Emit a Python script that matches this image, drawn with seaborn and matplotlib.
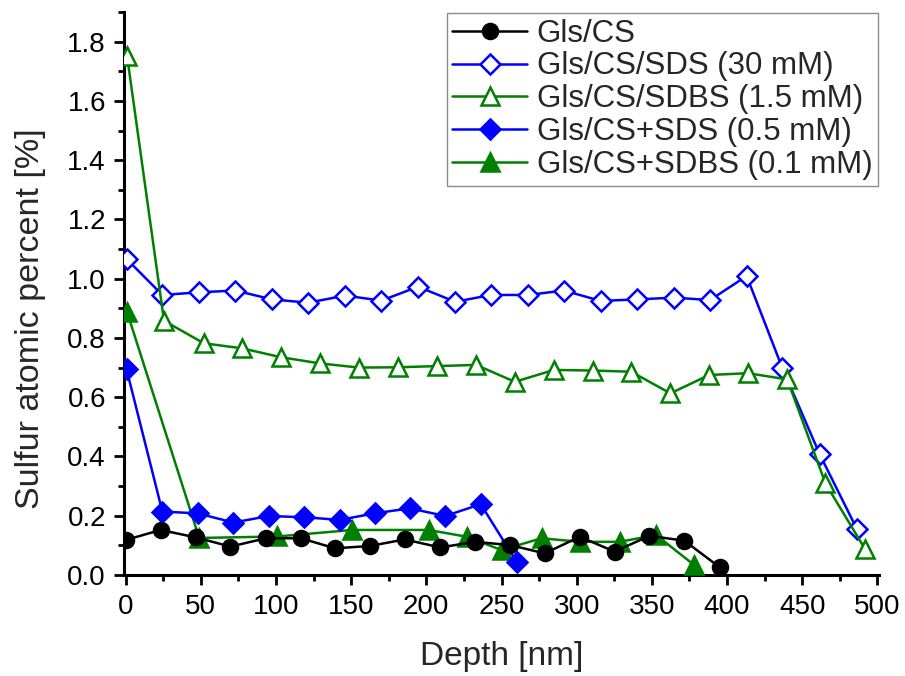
import matplotlib
matplotlib.use("Agg")
import matplotlib.pyplot as plt
import seaborn as sns
from matplotlib.ticker import MultipleLocator

# ---- data ----
gls_x = [0, 23.4, 46.6, 69.8, 93.4, 116.6, 139.3, 162.5, 185.6, 209.3, 232.5, 255.6, 278.8, 302, 325.2, 348.3, 371.5, 395.1]
gls_y = [0.118, 0.152, 0.127, 0.096, 0.124, 0.124, 0.090, 0.098, 0.120, 0.093, 0.112, 0.101, 0.073, 0.129, 0.079, 0.132, 0.116, 0.026]

sds30_x = [1, 24.5, 48.8, 73.1, 97.4, 121.6, 146, 170.2, 194.5, 219.2, 243, 267.3, 291.6, 315.9, 340.2, 364.4, 388.7, 413, 436.6, 461.6, 486.3]
sds30_y = [1.065, 0.945, 0.954, 0.960, 0.930, 0.919, 0.943, 0.926, 0.973, 0.922, 0.945, 0.945, 0.960, 0.925, 0.930, 0.936, 0.928, 1.009, 0.700, 0.407, 0.155]

sdbs15_x = [1, 25.6, 52.1, 77.5, 103.3, 129.4, 155.2, 181, 207.1, 233.1, 258.9, 284.8, 310.8, 336.2, 362.3, 388.1, 413.9, 440, 465.4, 491.8]
sdbs15_y = [1.753, 0.858, 0.782, 0.765, 0.735, 0.714, 0.700, 0.701, 0.705, 0.709, 0.652, 0.692, 0.690, 0.686, 0.613, 0.675, 0.681, 0.660, 0.309, 0.087]

sds05_x = [0.7, 24.5, 48.1, 71.7, 95.2, 118.8, 142.4, 165.6, 189, 212.6, 236.2, 260]
sds05_y = [0.694, 0.214, 0.208, 0.177, 0.199, 0.195, 0.186, 0.208, 0.225, 0.199, 0.239, 0.045]

sdbs01_x = [1, 49, 101, 150.8, 201.5, 227, 250, 276.6, 302, 328.5, 352.8, 378]
sdbs01_y = [0.888, 0.125, 0.130, 0.152, 0.152, 0.129, 0.084, 0.124, 0.112, 0.112, 0.135, 0.034]

labels = ["Gls/CS", "Gls/CS/SDS (30 mM)", "Gls/CS/SDBS (1.5 mM)",
          "Gls/CS+SDS (0.5 mM)", "Gls/CS+SDBS (0.1 mM)"]

sns.set_style("ticks")
plt.rcParams['font.family'] = ['Liberation Sans', 'DejaVu Sans']

fig = plt.figure(figsize=(9.05, 6.76), dpi=100)
ax = fig.add_axes([124 / 905, 1 - 575 / 676, 755 / 905, 563 / 676])

blue = "#0000ff"
green = "#008000"
lw = 1.8
series = [
    (gls_x, gls_y, labels[0], "black", "o", "black", 10.8, 6),
    (sds30_x, sds30_y, labels[1], blue, "D", "white", 10.0, 3),
    (sdbs15_x, sdbs15_y, labels[2], green, "^", "white", 13.0, 3),
    (sds05_x, sds05_y, labels[3], blue, "D", blue, 10.5, 5),
    (sdbs01_x, sdbs01_y, labels[4], green, "^", green, 13.0, 4),
]
for x, y, lab, col, mk, mfc, ms, z in series:
    sns.lineplot(x=x, y=y, ax=ax, sort=False, color=col, marker=mk,
                 markerfacecolor=mfc, markeredgecolor=col, markersize=ms,
                 markeredgewidth=1.8, linewidth=lw, label=lab, zorder=z)

ax.set_xlim(-1, 501)
ax.set_ylim(0, 1.9)
ax.xaxis.set_major_locator(MultipleLocator(50))
ax.xaxis.set_minor_locator(MultipleLocator(25))
ax.yaxis.set_major_locator(MultipleLocator(0.2))
ax.yaxis.set_minor_locator(MultipleLocator(0.1))
ax.yaxis.set_major_formatter(plt.FuncFormatter(lambda v, p: f"{v:.1f}"))

for s in ["top", "right"]:
    ax.spines[s].set_visible(False)
for s in ["left", "bottom"]:
    ax.spines[s].set_linewidth(2.2)
    ax.spines[s].set_color("black")

ax.tick_params(which="major", direction="out", length=7, width=2, labelsize=20, colors="black")
ax.tick_params(which="minor", direction="out", length=4.5, width=2, colors="black")
ax.tick_params(axis="x", which="major", pad=7)
ax.tick_params(axis="y", which="major", pad=6)

ax.set_xlabel("Depth [nm]", fontsize=24)
ax.set_ylabel("Sulfur atomic percent [%]", fontsize=24.5)
ax.xaxis.set_label_coords(0.5, (575 - 641) / 563)
ax.yaxis.set_label_coords((46 - 124) / 755, (575 - 319) / 563)

leg = ax.legend(loc="upper right", bbox_to_anchor=((878 - 124) / 755, (575 - 13) / 563),
                fontsize=22.5, frameon=True, fancybox=False, edgecolor="#707070",
                handlelength=2.4, labelspacing=0.09, borderpad=0.18,
                handletextpad=0.3, borderaxespad=0.0)
leg.get_frame().set_linewidth(1.0)

fig.savefig("out.png", dpi=100)
